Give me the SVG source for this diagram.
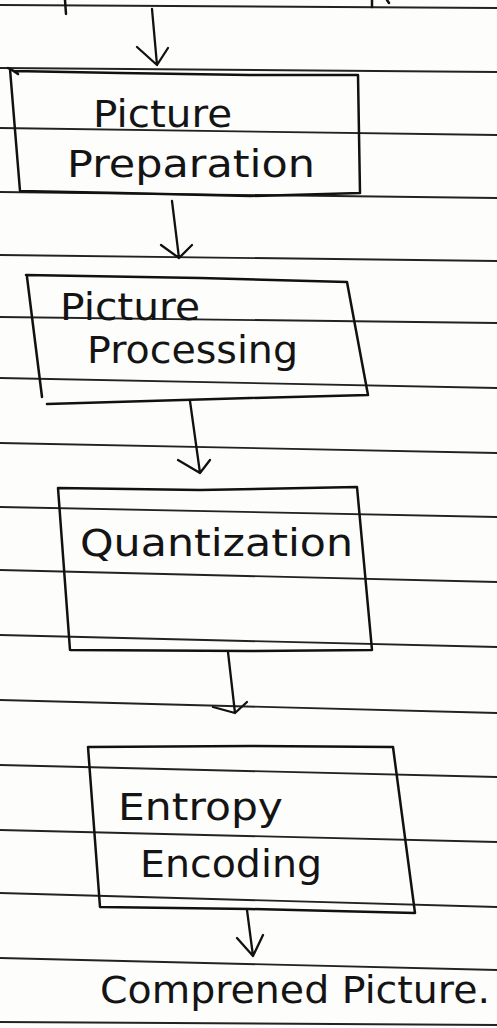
<svg xmlns="http://www.w3.org/2000/svg" width="497" height="1028" viewBox="0 0 497 1028">
  <style>
    .rule { fill: none; stroke: #222; stroke-width: 1.9; }
    .pen { fill: none; stroke: #111; stroke-width: 2.5; stroke-linecap: round; stroke-linejoin: round; }
    .arrow { fill: none; stroke: #111; stroke-width: 2.3; stroke-linecap: round; stroke-linejoin: round; }
    .label { font-family: "DejaVu Sans", "Liberation Sans", sans-serif; font-size: 37px; fill: #141414; }
  </style>

  <!-- paper -->
  <rect x="0" y="0" width="497" height="1028" fill="#fdfdfc"/>

  <!-- ruled lines of the notebook page -->
  <g id="ruled-lines">
    <path class="rule" d="M0 5 L497 8"/>
    <path class="rule" d="M0 68 L497 72"/>
    <path class="rule" d="M0 128 L497 135"/>
    <path class="rule" d="M0 192 L497 198"/>
    <path class="rule" d="M0 255 L497 261"/>
    <path class="rule" d="M0 317 L497 323"/>
    <path class="rule" d="M0 378 L497 388"/>
    <path class="rule" d="M0 443 L497 453"/>
    <path class="rule" d="M0 507 L497 517"/>
    <path class="rule" d="M0 570 L497 582"/>
    <path class="rule" d="M0 635 L497 647"/>
    <path class="rule" d="M0 700 L497 713"/>
    <path class="rule" d="M0 765 L497 777"/>
    <path class="rule" d="M0 830 L497 842"/>
    <path class="rule" d="M0 893 L497 907"/>
    <path class="rule" d="M0 958 L497 970"/>
    <path class="rule" d="M0 1022 L497 1025"/>
  </g>

  <!-- lower ends of the box sides above the page edge -->
  <g id="previous-box">
    <path class="pen" d="M65 0 L66 14"/>
    <path class="pen" d="M372 0 L372 7"/>
    <path class="pen" d="M387 0 L389 3"/>
  </g>

  <g id="picture-preparation">
    <path class="pen" d="M10 69 L20 191 M8 68 L14 71 L120 73 L250 75 L358 75 L360 193 L250 196 L120 193 L20 191 M12 70 L18 74"/>
    <text class="label" x="93" y="127" textLength="139" lengthAdjust="spacingAndGlyphs">Picture</text>
    <text class="label" x="67" y="177" textLength="248" lengthAdjust="spacingAndGlyphs">Preparation</text>
  </g>

  <g id="picture-processing">
    <path class="pen" d="M26 275 L200 278 L347 282 L368 395 L250 398 L47 404 M27 277 L42 397"/>
    <text class="label" x="60" y="320" textLength="140" lengthAdjust="spacingAndGlyphs">Picture</text>
    <text class="label" x="87" y="363" textLength="211" lengthAdjust="spacingAndGlyphs">Processing</text>
  </g>

  <g id="quantization">
    <path class="pen" d="M58 488 L200 490 L357 487 L372 650 L250 651 L70 650 Z"/>
    <text class="label" x="80" y="556" textLength="273" lengthAdjust="spacingAndGlyphs">Quantization</text>
  </g>

  <g id="entropy-encoding">
    <path class="pen" d="M88 747 L250 746 L393 747 L415 913 L250 909 L100 907 Z"/>
    <text class="label" x="118" y="820" textLength="165" lengthAdjust="spacingAndGlyphs">Entropy</text>
    <text class="label" x="140" y="877" textLength="182" lengthAdjust="spacingAndGlyphs">Encoding</text>
  </g>

  <g id="compressed-picture">
    <text class="label" x="100" y="1003" font-size="43" textLength="390" lengthAdjust="spacingAndGlyphs">Comprened Picture.</text>
  </g>

  <!-- connectors: shaft plus open arrowhead -->
  <g id="connectors">
    <path class="arrow" d="M152 9 L157 65 M137 47 L157 65 L168 48"/>
    <path class="arrow" d="M172 201 L179 258 M161 245 L179 258 L192 245"/>
    <path class="arrow" d="M190 401 L200 473 M178 460 L200 473 L210 460"/>
    <path class="arrow" d="M228 652 L235 713 M213 707 L235 713 L247 702"/>
    <path class="arrow" d="M247 910 L253 956 M237 938 L253 956 L263 935"/>
  </g>
</svg>
